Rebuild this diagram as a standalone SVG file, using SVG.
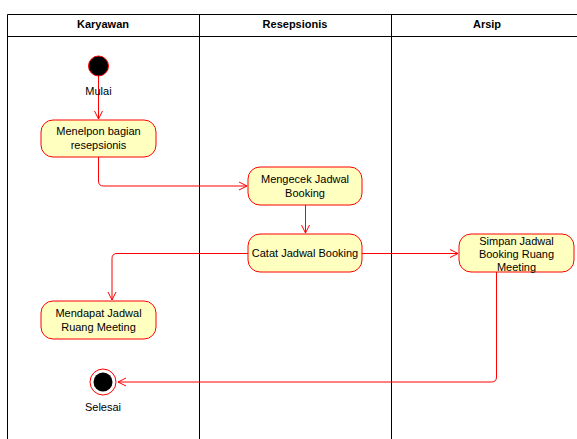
<svg xmlns="http://www.w3.org/2000/svg" width="577" height="439" viewBox="0 0 577 439">
<style>
.lane{fill:none;stroke:#000;stroke-width:1}
.hdr{font-family:"Liberation Sans",Arial,sans-serif;font-size:11px;font-weight:bold;fill:#000;text-anchor:middle}
.act{fill:#ffffc0;stroke:#ff0000;stroke-width:1}
.lbl{font-family:"Liberation Sans",Arial,sans-serif;font-size:11px;fill:#000;text-anchor:middle}
.edge{fill:none;stroke:#ff0000;stroke-width:1}
</style>
<defs>
<marker id="arr" markerWidth="10" markerHeight="10" refX="9" refY="5" orient="auto" markerUnits="userSpaceOnUse">
<path d="M1,1 L9,5 L1,9" fill="none" stroke="#ff0000" stroke-width="1"/>
</marker>
</defs>
<rect width="577" height="439" fill="#fff"/>
<g id="pool">
<path class="lane" d="M7.5,439 V14.5 H585 M7.5,36.5 H585 M199.5,14.5 V439 M391.5,14.5 V439"/>
<text class="hdr" x="103" y="28">Karyawan</text>
<text class="hdr" x="295" y="28">Resepsionis</text>
<text class="hdr" x="487" y="28">Arsip</text>
</g>
<g id="connectors">
<path class="edge" d="M98.5,66 V119" marker-end="url(#arr)"/>
<path class="edge" d="M98.5,157 V181 Q98.5,186 103.5,186 H247" marker-end="url(#arr)"/>
<path class="edge" d="M305.5,205 V233" marker-end="url(#arr)"/>
<path class="edge" d="M248,253.5 H117 Q112,253.5 112,258.5 V300" marker-end="url(#arr)"/>
<path class="edge" d="M362,253.5 H458" marker-end="url(#arr)"/>
<path class="edge" d="M496.5,272 V377 Q496.5,382 491.5,382 H118" marker-end="url(#arr)"/>
</g>
<g id="start">
<circle cx="98.5" cy="66" r="10" fill="#000" stroke="#ff0000" stroke-width="1"/>
<text class="lbl" x="98.5" y="95">Mulai</text>
</g>
<g id="n1">
<rect class="act" x="41" y="120" width="115" height="37" rx="12"/>
<text class="lbl" x="98.5" y="135">Menelpon bagian</text>
<text class="lbl" x="98.5" y="149">resepsionis</text>
</g>
<g id="n2">
<rect class="act" x="248" y="167" width="114" height="38" rx="12"/>
<text class="lbl" x="305" y="183">Mengecek Jadwal</text>
<text class="lbl" x="305" y="197">Booking</text>
</g>
<g id="n3">
<rect class="act" x="248" y="234" width="114" height="38" rx="12"/>
<text class="lbl" x="305" y="257">Catat Jadwal Booking</text>
</g>
<g id="n4">
<rect class="act" x="41" y="301" width="115" height="38" rx="12"/>
<text class="lbl" x="98.5" y="317">Mendapat Jadwal</text>
<text class="lbl" x="98.5" y="331">Ruang Meeting</text>
</g>
<g id="n5">
<rect class="act" x="459" y="234" width="115" height="38" rx="12"/>
<text class="lbl" x="516.5" y="245">Simpan Jadwal</text>
<text class="lbl" x="516.5" y="258">Booking Ruang</text>
<text class="lbl" x="516.5" y="271">Meeting</text>
</g>
<g id="end">
<circle cx="103" cy="382" r="13" fill="#fff" stroke="#ff0000" stroke-width="1"/>
<circle cx="103" cy="382" r="9.5" fill="#000"/>
<text class="lbl" x="103" y="411">Selesai</text>
</g>
</svg>
